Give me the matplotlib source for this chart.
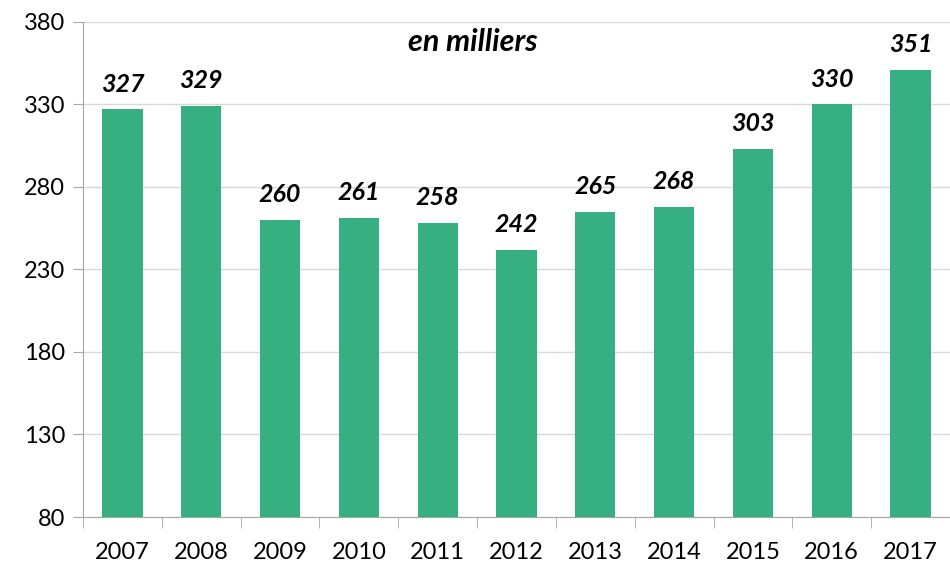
from matplotlib import pyplot as plt
import numpy as np

annees = ['2007', '2008', '2009', '2010', '2011', '2012', '2013', '2014', '2015', '2016', '2017']
valeurs = [327, 329, 260, 261, 258, 242, 265, 268, 303, 330, 351]
yticks = [80, 130, 180, 230, 280, 330, 380]

plt.rcParams['font.family'] = ['Lato', 'DejaVu Sans']

fig = plt.figure(figsize=(9.5, 5.63), dpi=100)
ax = fig.add_axes([0.0874, 0.0817, 0.9126, 0.8793])

x = np.arange(len(annees))
ax.bar(x, valeurs, width=0.51, color='#36B083', zorder=3)

for xi, v in zip(x, valeurs):
    ax.annotate(str(v), (xi, v), xytext=(0, 10), textcoords='offset points',
                ha='center', va='bottom', fontsize=18, fontweight='bold',
                fontstyle='italic', color='black')

ax.text(0.45, 0.96, 'en milliers', transform=ax.transAxes, ha='center', va='center',
        fontsize=22, fontweight='bold', fontstyle='italic')

ax.set_xlim(-0.5, len(annees) - 0.5)
ax.set_ylim(80, 380)
ax.set_yticks(yticks)
ax.tick_params(axis='y', labelsize=17, length=7, color='#a6a6a6', pad=6)

ax.set_xticks(x)
ax.set_xticklabels(annees)
ax.set_xticks(np.arange(-0.5, len(annees)), minor=True)
ax.tick_params(axis='x', which='major', length=0, labelsize=17, pad=18)
ax.tick_params(axis='x', which='minor', length=8, color='#a6a6a6')

ax.grid(axis='y', color='#d9d9d9', linewidth=1, zorder=0)
for s in ['top', 'right']:
    ax.spines[s].set_visible(False)
for s in ['left', 'bottom']:
    ax.spines[s].set_color('#a6a6a6')

fig.savefig('out.png', dpi=100)
